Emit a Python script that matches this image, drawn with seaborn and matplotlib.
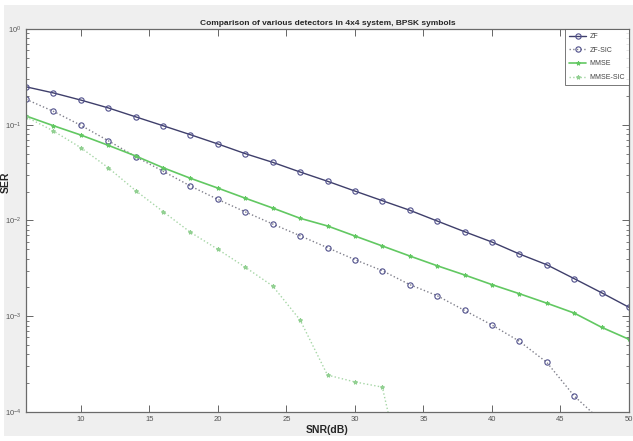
import matplotlib
matplotlib.use("Agg")
import matplotlib.pyplot as plt
import matplotlib.ticker as mticker
import numpy as np
import pandas as pd
import seaborn as sns

# SNR grid (dB) and symbol error rates
snr_db = [6, 8, 10, 12, 14, 16, 18, 20, 22, 24, 26, 28,
          30, 32, 34, 36, 38, 40, 42, 44, 46, 48, 50]

ser_zf = [0.249, 0.215, 0.181, 0.150, 0.121, 0.0977, 0.0787, 0.0630,
          0.0499, 0.0405, 0.0321, 0.0257, 0.0203, 0.0161, 0.0128,
          0.00988, 0.00764, 0.00596, 0.00447, 0.00345, 0.00247,
          0.00176, 0.00124]

ser_zf_sic = [0.1845, 0.138, 0.0987, 0.0681, 0.0464, 0.0327, 0.0229,
              0.0166, 0.0123, 0.00919, 0.00693, 0.00520, 0.00390,
              0.00299, 0.00214, 0.00164, 0.00115, 0.00081, 0.000548,
              0.000330, 0.000147, 0.00008, 0.00003]

ser_mmse = [0.1235, 0.0977, 0.0781, 0.0610, 0.0472, 0.0356, 0.0276,
            0.0218, 0.0171, 0.0135, 0.01055, 0.00877, 0.00689, 0.00542,
            0.00426, 0.00337, 0.00270, 0.00214, 0.00172, 0.00137,
            0.00108, 0.000767, 0.000574]

ser_mmse_sic = [0.121, 0.0861, 0.0576, 0.0356, 0.0205, 0.0124, 0.00753,
                0.00500, 0.00325, 0.00207, 0.000914, 0.000243, 0.000206,
                0.000182, 0.00001, np.nan, np.nan, np.nan, np.nan,
                np.nan, np.nan, np.nan, np.nan]

labels = ["ZF", "ZF-SIC", "MMSE", "MMSE-SIC"]
title = "Comparison of various detectors in 4x4 system, BPSK symbols"

sns.set_style("ticks")
plt.rcParams["font.family"] = ["Liberation Sans", "DejaVu Sans"]

fig = plt.figure(figsize=(6.33, 4.41), dpi=100, facecolor="white")
# grey MATLAB-like figure panel inside a thin white border
fig.patches.append(plt.Rectangle((4 / 633, 5 / 441), 629 / 633, 431 / 441,
                                 transform=fig.transFigure,
                                 facecolor="#efefef", edgecolor="none",
                                 zorder=-10))
ax = fig.add_axes([26 / 633, 29 / 441, 603 / 633, 383 / 441])
ax.set_facecolor("white")

styles = [
    dict(color="#3f3f6b", linestyle="-", linewidth=1.0, marker="o",
         markersize=3.8, markerfacecolor="none", markeredgecolor="#50508c",
         markeredgewidth=0.8),
    dict(color="#80808c", linestyle=":", linewidth=1.0, marker="o",
         markersize=3.8, markerfacecolor="none", markeredgecolor="#50508c",
         markeredgewidth=0.8),
    dict(color="#62c862", linestyle="-", linewidth=1.2, marker="*",
         markersize=3, markeredgecolor="#62c862"),
    dict(color="#a6d6a6", linestyle=":", linewidth=1.0, marker="*",
         markersize=3, markeredgecolor="#8fcf8f"),
]

for vals, lab, st in zip([ser_zf, ser_zf_sic, ser_mmse, ser_mmse_sic],
                         labels, styles):
    df = pd.DataFrame({"snr": snr_db, "ser": vals}).dropna()
    sns.lineplot(data=df, x="snr", y="ser", ax=ax, label=lab, **st)

ax.set_yscale("log")
ax.set_xlim(6, 50)
ax.set_ylim(1e-4, 1)
ax.set_xticks([10, 15, 20, 25, 30, 35, 40, 45, 50])
ax.yaxis.set_major_locator(mticker.LogLocator(base=10, numticks=10))
ax.yaxis.set_minor_locator(mticker.LogLocator(base=10, subs=np.arange(2, 10),
                                              numticks=20))
ax.yaxis.set_minor_formatter(mticker.NullFormatter())

ax.tick_params(which="both", direction="in", top=True, right=True,
               labelsize=5.5, labelcolor="#555555", color="#666666")
ax.tick_params(which="major", length=5, width=0.7, pad=3)
ax.tick_params(which="minor", length=2.5, width=0.6)
for sp in ax.spines.values():
    sp.set_color("#6a6a6a")
    sp.set_linewidth(0.9)

ax.set_title(title, fontsize=6, fontweight="bold", pad=3)
ax.set_xlabel("SNR(dB)", fontsize=7.5, fontweight="bold", labelpad=1)
ax.set_ylabel("SER", fontsize=7.5, fontweight="bold")
ax.yaxis.set_label_coords(-0.025, 0.60)

leg = ax.legend(loc="upper right", fontsize=5, frameon=True, fancybox=False,
                borderaxespad=0.0, handlelength=2.4, labelspacing=0.95,
                borderpad=0.6, handletextpad=0.5)
leg.get_frame().set_edgecolor("#555555")
leg.get_frame().set_linewidth(0.7)
for t in leg.get_texts():
    t.set_color("#444444")

fig.savefig("out.png", dpi=100, facecolor=fig.get_facecolor())
